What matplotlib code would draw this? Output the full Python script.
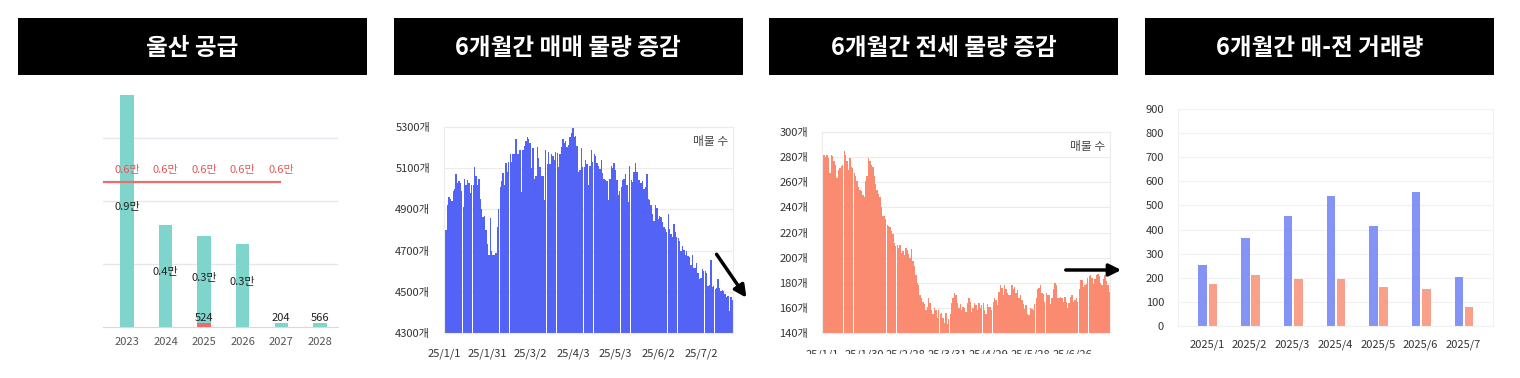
import numpy as np
import matplotlib.pyplot as plt
from matplotlib.transforms import Bbox

plt.rcParams['font.family'] = ['Noto Sans CJK KR', 'DejaVu Sans']
plt.rcParams['axes.unicode_minus'] = False

# 패널 제목
titles = ['울산 공급', '6개월간 매매 물량 증감', '6개월간 전세 물량 증감', '6개월간 매-전 거래량']

# 1) 울산 공급
years = ['2023', '2024', '2025', '2026', '2027', '2028']
supply = [9200, 4050, 3600, 3300, 150, 150]
supply_txt = ['0.9만', '0.4만', '0.3만', '0.3만', '204', '566']
extra_val = [0, 0, 150, 0, 0, 0]          # 2025 빨간 막대
extra_txt = ['', '', '524', '', '', '']
demand = [5750, 5750, 5750, 5750, 5750]  # 2023~2027
demand_txt = ['0.6만'] * 5

# 2) 매매 매물 수 (일별)
sale = [
    4990, 4800, 4920, 4960, 4950, 4940, 4990, 5000, 5070, 5030,
    5040, 5030, 4990, 4910, 5050, 5020, 5045, 5030, 4980, 5020,
    5020, 5105, 5060, 5020, 5050, 4950, 4900, 4865, 4870, 4800,
    4730, 4680, 4860, 4700, 4680, 4680, 4690, 4815, 4900, 5010,
    5040, 5075, 5020, 5125, 5080, 5130, 5170, 5130, 5170, 5170,
    5240, 5170, 5170, 5190, 4985, 5190, 5210, 5230, 5250, 5240,
    5220, 5100, 5200, 5050, 5060,
    5205, 5150, 5107, 5060, 5060, 4945, 5190, 5120, 5180, 5120,
    5170, 5160, 5140, 5180, 5175, 5107, 5170, 5205, 5240, 5220,
    5230, 5205, 5215, 5250, 5270, 5295, 5250, 5255, 5210, 5083,
    5090, 5200, 5107, 5105, 5140, 5120, 5020, 5110, 5190, 5130,
    5170, 5160, 5125, 5110, 5095, 5140, 5075, 5050, 5045, 5040,
    4945, 5050, 5110, 5100, 5125, 5090, 5045, 4970, 4990, 5010,
    5045, 5050, 5070, 5020, 4935, 5110, 5045, 5035, 5080,
    5124, 5080, 5045, 5045, 5030, 5040, 5000, 5010, 5070, 4950,
    4945, 4920, 4880, 4845, 4920, 4905, 4855, 4870, 4865, 4840,
    4815, 4805, 4790, 4880, 4805, 4780, 4765, 4830, 4790, 4765,
    4760, 4745, 4700, 4720, 4705, 4680, 4700, 4675, 4670, 4630,
    4680, 4615, 4615, 4640, 4590, 4560, 4565, 4610, 4600, 4600,
    4590, 4530, 4535, 4655, 4525, 4530, 4515, 4520, 4560, 4520,
    4505, 4510, 4505, 4490, 4475, 4480, 4405, 4475, 4460,
]
sale_ticks = ['25/1/1', '25/1/31', '25/3/2', '25/4/3', '25/5/3', '25/6/2', '25/7/2']

# 3) 전세 매물 수 (일별)
rent = [
    284, 282, 280, 282, 279, 267, 282, 281, 277, 274,
    263, 270, 271, 273, 274, 285, 282, 277, 270, 279,
    272, 271, 267, 265, 261, 256, 254, 253, 250, 248,
    261, 265, 279, 277, 274, 272, 265, 259, 254, 251,
    248, 240, 233, 233, 231, 226, 225, 224, 221, 219,
    212, 209, 210, 208, 210, 204, 205, 202, 208, 206,
    203, 200, 207, 197,
    193, 186, 180, 178, 170, 168, 165, 163, 158, 161,
    168, 164, 158, 155, 160, 158, 152, 158, 155, 156,
    152, 148, 156, 147, 151, 155, 164, 168, 172, 170,
    164, 160, 163, 158, 161, 160, 157, 164, 168, 165,
    157, 160, 164, 162, 158, 164, 160, 162, 164, 158,
    155, 163, 161, 161, 158, 165, 168, 166, 162, 173,
    178, 176, 170, 178, 175, 172, 170,
    170, 178, 175, 177, 172, 174, 168, 170, 166, 163,
    159, 162, 155, 154, 160, 159, 158, 163, 168, 175,
    176, 178, 172, 171, 165, 172, 170, 170, 163, 168,
    175, 180, 178, 168, 168, 169, 168, 165, 169, 165,
    160, 164, 169, 170, 165, 166, 168, 165, 175, 182,
    182, 177, 178, 179, 184, 185, 186, 184, 179, 183,
    186, 187, 185, 180, 178, 183, 186, 181, 178, 173,
]
rent_ticks = ['25/1/1', '25/1/30', '25/2/28', '25/3/31', '25/4/29', '25/5/28', '25/6/26']

# 4) 매매-전세 거래량
months = ['2025/1', '2025/2', '2025/3', '2025/4', '2025/5', '2025/6', '2025/7']
trade_sale = [252, 366, 457, 540, 416, 557, 202]
trade_rent = [176, 211, 194, 194, 161, 152, 78]

W, H = 1520, 378
fig = plt.figure(figsize=(W / 100, H / 100), dpi=100)
fig.patch.set_facecolor('white')

def px_axes(x0, y0, x1, y1):
    # 픽셀 좌표(위쪽 원점)로 축 만들기
    return fig.add_axes([x0 / W, 1 - y1 / H, (x1 - x0) / W, (y1 - y0) / H])

# 제목 박스
for i, t in enumerate(titles):
    x0 = 18 + i * 375.7
    tax = px_axes(x0, 18, x0 + 349, 75)
    tax.set_facecolor('black')
    tax.set_xticks([])
    tax.set_yticks([])
    for s in tax.spines.values():
        s.set_visible(False)
    tax.text(0.5, 0.47, t, color='white', fontsize=17, fontweight='bold',
             ha='center', va='center', transform=tax.transAxes)

tick_c = '#333333'
grid_c = '#ececec'
fs = 8

# ---------- 패널 1 ----------
ax1 = px_axes(103, 88, 338, 327)
x = np.arange(len(years))
ax1.bar(x, supply, width=0.35, color='#7fd5cb', zorder=2)
ax1.bar(x, extra_val, width=0.35, color='#ee6b6b', zorder=3)
ax1.set_xlim(-0.62, 5.47)
ax1.set_ylim(0, 9480)
ax1.set_yticks([2500, 5000, 7500])
ax1.yaxis.grid(True, color='#e6e6ee', lw=1, zorder=0)
ax1.tick_params(axis='y', length=0, labelleft=False)
ax1.set_xticks(x, years)
ax1.tick_params(axis='x', length=0, pad=7, labelsize=fs, labelcolor='#555555')
for k in ['left', 'right', 'top']:
    ax1.spines[k].set_visible(False)
ax1.spines['bottom'].set_color('#d8d8e4')
ax1.hlines(demand[0], -0.62, len(demand) - 1, color='#ea6c6c', lw=1.6, zorder=4)
for i, t in enumerate(demand_txt):
    ax1.annotate(t, (i, demand[i]), xytext=(0, 9), textcoords='offset points',
                 ha='center', va='center', fontsize=fs, color='#e05a5a', zorder=5)
for i, t in enumerate(supply_txt):
    if supply[i] > 1000:
        ax1.text(i, supply[i] * 0.5 + 150, t, ha='center', va='center', fontsize=fs,
                 color='#222222', zorder=5)
    else:
        ax1.annotate(t, (i, supply[i]), xytext=(0, 4), textcoords='offset points',
                     ha='center', va='center', fontsize=fs, color='#222222', zorder=5)
for i, t in enumerate(extra_txt):
    if t:
        ax1.annotate(t, (i, extra_val[i]), xytext=(0, 4), textcoords='offset points',
                     ha='center', va='center', fontsize=fs, color='#222222', zorder=5)

# ---------- 패널 2, 3 공통 ----------
def daily_panel(ax, vals, color, lo, hi, step, ticks, every):
    n = len(vals)
    ax.bar(np.arange(n), vals, width=0.95, color=color, lw=0, zorder=2)
    ax.set_xlim(-0.5, n - 0.5)
    ax.set_ylim(lo, hi)
    yt = np.arange(lo, hi + 1, step)
    ax.set_yticks(yt, [f'{v}개' for v in yt])
    ax.yaxis.grid(True, color=grid_c, lw=0.8, zorder=0)
    ax.tick_params(length=0, labelsize=fs, labelcolor=tick_c)
    ax.tick_params(axis='y', pad=10)
    for s in ax.spines.values():
        s.set_color(grid_c)
    ax.text(0.985, 0.93, '매물 수', transform=ax.transAxes, ha='right', va='center',
            fontsize=8.5, color='#444444')
    return np.arange(0, every * len(ticks), every)

ax2 = px_axes(444, 127, 733, 333)
pos2 = daily_panel(ax2, sale, '#5263f6', 4300, 5300, 200, sale_ticks, 30)
ax2.set_xticks(pos2, sale_ticks)
ax2.tick_params(axis='x', pad=11)
ax2.annotate('', xy=(748, H - 300), xytext=(715, H - 252), xycoords='figure pixels',
             textcoords='figure pixels', annotation_clip=False,
             arrowprops=dict(arrowstyle='-|>', lw=2.5, color='black', mutation_scale=18))

ax3 = px_axes(822, 132, 1110, 333)
pos3 = daily_panel(ax3, rent, '#fb8b70', 140, 300, 20, rent_ticks, 29)
ax3.set_xticks([])
clip = Bbox.from_extents(780, H - 354, 1140, H)
for p, t in zip(pos3, rent_ticks):
    tx = ax3.text(p, -0.11, t, transform=ax3.get_xaxis_transform(), ha='center',
                  va='center', fontsize=fs, color=tick_c)
    tx.set_clip_box(clip)
    tx.set_clip_on(True)
ax3.annotate('', xy=(1124, H - 270), xytext=(1063, H - 270), xycoords='figure pixels',
             textcoords='figure pixels', annotation_clip=False,
             arrowprops=dict(arrowstyle='-|>', lw=2.5, color='black', mutation_scale=18))

# ---------- 패널 4 ----------
ax4 = px_axes(1178, 109, 1493, 326)
xm = np.arange(len(months))
ax4.bar(xm - 0.1, trade_sale, width=0.2, color='#8594f4', zorder=2)
ax4.bar(xm + 0.14, trade_rent, width=0.2, color='#f8a08a', zorder=2)
ax4.set_xlim(-0.68, 6.7)
ax4.set_ylim(0, 900)
ax4.set_yticks(np.arange(0, 901, 100))
ax4.yaxis.grid(True, color='#f0f0f0', lw=0.8, zorder=0)
ax4.set_xticks(xm, months)
ax4.tick_params(length=0, labelsize=fs, labelcolor=tick_c)
ax4.tick_params(axis='y', pad=10)
ax4.tick_params(axis='x', pad=10)
for s in ax4.spines.values():
    s.set_color('#f0f0f0')

fig.savefig('out.png', dpi=100)
